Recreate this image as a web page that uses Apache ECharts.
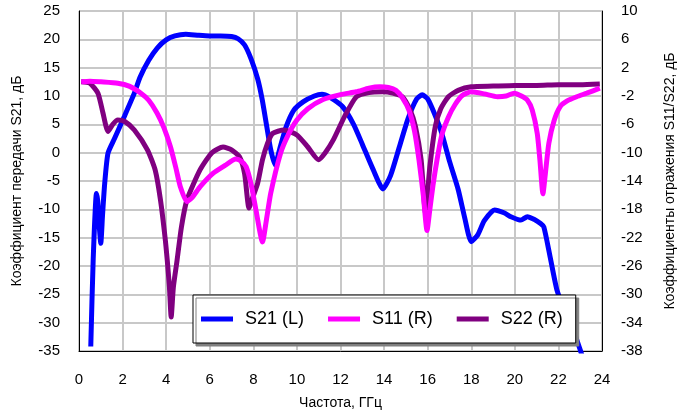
<!DOCTYPE html>
<html><head><meta charset="utf-8">
<script src="https://cdn.jsdelivr.net/npm/echarts@6/dist/echarts.min.js"></script>
<style>html,body{margin:0;padding:0;background:#fff}#c{width:685px;height:416px}</style>
</head><body><div id="c"></div>
<script>
// ---- data ----
const xTicks = [0,2,4,6,8,10,12,14,16,18,20,22,24];
const leftTicks = [-35,-30,-25,-20,-15,-10,-5,0,5,10,15,20,25];
const rightTicks = [-38,-34,-30,-26,-22,-18,-14,-10,-6,-2,2,6,10];

const s21Freq = [0.54,0.65,0.8,0.86,0.93,1.0,1.08,1.18,1.33,1.63,2.08,2.54,2.8,3.2,3.6,4.0,4.4,4.9,5.5,6.0,6.5,7.0,7.3,7.6,7.9,8.2,8.4,8.6,8.8,9.0,9.2,9.5,9.86,10.3,10.8,11.15,11.5,12.1,12.6,13.0,13.5,13.95,14.3,14.7,15.1,15.5,15.75,16.0,16.3,16.65,17.0,17.4,17.7,18.0,18.3,18.6,19.07,19.5,19.82,20.28,20.57,20.9,21.18,21.33,21.6,21.93,22.3,22.7,23.0,23.1];
const s21Vals = [-34.2,-19,-7.2,-8.5,-13,-16,-11,-5.4,-0.1,2.5,6.4,10.5,13.3,16.3,18.5,19.9,20.6,20.9,20.7,20.6,20.6,20.5,20.1,19,16.5,13,9.5,5,0.5,-2.2,0.5,4.5,7.5,9,10,10.3,9.8,8.1,5,1.5,-3,-6.4,-4,1,6,9.5,10.2,9.5,7,3.4,-1.5,-6.5,-11.5,-15.7,-14.5,-12,-10.1,-10.6,-11.3,-11.9,-11.3,-11.8,-12.5,-13.1,-18,-24.2,-28,-31.5,-34.8,-36];

const s11Freq = [0.1,0.5,1.0,1.78,2.3,2.84,3.2,3.58,3.9,4.2,4.45,4.65,4.95,5.2,5.56,6.16,6.7,7.2,7.45,7.67,7.9,8.12,8.42,8.6,8.8,9.25,9.6,10.0,10.5,11.2,12.0,12.73,13.3,13.8,14.2,14.54,14.85,15.14,15.4,15.6,15.8,15.97,16.1,16.25,16.43,16.65,16.95,17.26,17.6,18.0,18.6,19.2,19.6,19.97,20.3,20.58,20.8,21.03,21.15,21.29,21.4,21.56,21.8,22.08,22.4,22.84,23.3,23.9];
const s11Vals = [0,0.1,0,-0.2,-0.6,-1.6,-2.6,-4.4,-6.5,-9.2,-12.2,-14.8,-16.9,-16.3,-14.8,-12.9,-11.8,-10.9,-11.2,-12,-14.5,-18.1,-22.6,-19.5,-15.7,-10.1,-7.5,-5.4,-3.8,-2.5,-1.8,-1.4,-0.9,-0.7,-0.8,-1.2,-2.3,-4,-7,-11,-16,-21,-18,-14.5,-11,-7.5,-5,-3.2,-1.9,-1.4,-1.7,-2.1,-2,-1.6,-2,-2.6,-4,-7.3,-11,-15.8,-13,-8.7,-5.5,-3.5,-2.7,-2.1,-1.6,-0.9];

const s22Freq = [0.1,0.5,0.87,1.1,1.33,1.55,1.78,2.1,2.54,3.14,3.5,3.74,3.95,4.05,4.15,4.23,4.33,4.5,4.7,4.95,5.56,6.1,6.61,7.0,7.37,7.6,7.8,7.95,8.2,8.42,8.65,8.88,9.4,10.0,10.5,10.99,11.3,11.67,12.2,12.73,13.3,13.94,14.4,14.84,15.2,15.44,15.7,15.9,16.1,16.35,16.6,16.95,17.4,18.0,19.0,20.0,21.0,22.0,23.0,23.9];
const s22Vals = [0,-0.2,-1.6,-4.4,-7,-6,-5.4,-5.6,-6.8,-9.6,-12.5,-16.7,-22,-25.2,-29,-33.2,-29,-25.2,-20.5,-16.7,-12.4,-10,-9.2,-9.6,-10.6,-13,-17.8,-16.5,-14.3,-11,-8.7,-7.3,-6.8,-7.5,-9.2,-11,-10,-8.2,-4.8,-2.1,-1.5,-1.4,-1.6,-2.1,-4,-6.3,-11,-18.5,-12,-6.3,-3.8,-2.1,-1.2,-0.7,-0.6,-0.5,-0.5,-0.4,-0.4,-0.3];

const seriesNames = ['S21 (L)','S11 (R)','S22 (R)'];

function pairs(xs, ys){ return xs.map((x,i)=>[x, ys[i]]); }

const FONT = '"Liberation Sans", Arial, sans-serif';
const GRID = '#c8c8c8';
const chart = echarts.init(document.getElementById('c'), null, {renderer:'canvas'});
chart.setOption({
  animation:false,
  backgroundColor:'#fff',
  textStyle:{fontFamily:FONT},
  grid:{left:79,right:76,top:11,bottom:65,show:true,borderColor:'#000',borderWidth:1,backgroundColor:'transparent'},
  legend:{
    data:seriesNames,
    left:193, top:295,
    padding:[15,13,15,8],
    itemWidth:32, itemHeight:5, itemGap:24,
    icon:'rect',
    backgroundColor:'#fff', borderColor:'#000', borderWidth:1,
    shadowColor:'#808080', shadowOffsetX:3, shadowOffsetY:3, shadowBlur:0,
    textStyle:{fontSize:18, color:'#000', fontFamily:FONT, padding:[0,0,0,7]}
  },
  xAxis:[{
    type:'value', min:xTicks[0], max:xTicks[xTicks.length-1], interval:xTicks[1]-xTicks[0],
    name:'Частота, ГГц', nameLocation:'middle', nameGap:45,
    nameTextStyle:{fontSize:14,color:'#000',fontFamily:FONT},
    axisLine:{show:true,onZero:false,lineStyle:{color:'#000',width:1}},
    axisTick:{show:false},
    axisLabel:{fontSize:15,color:'#000',margin:21,fontFamily:FONT},
    splitLine:{show:true,lineStyle:{color:GRID,width:2}}
  }],
  yAxis:[{
    type:'value', min:leftTicks[0], max:leftTicks[leftTicks.length-1], interval:leftTicks[1]-leftTicks[0], position:'left',
    name:'Коэффициент передачи S21, дБ', nameLocation:'middle', nameGap:55, nameRotate:90,
    nameTextStyle:{fontSize:14,color:'#000',fontFamily:FONT},
    axisLine:{show:true,onZero:false,lineStyle:{color:'#000',width:1}},
    axisTick:{show:false},
    axisLabel:{fontSize:15,color:'#000',margin:19,fontFamily:FONT},
    splitLine:{show:true,lineStyle:{color:GRID,width:2}}
  },{
    type:'value', min:rightTicks[0], max:rightTicks[rightTicks.length-1], position:'right',
    name:'Коэффициенты отражения S11/S22, дБ', nameLocation:'middle', nameGap:61, nameRotate:90,
    nameTextStyle:{fontSize:14,color:'#000',fontFamily:FONT},
    axisLine:{show:true,onZero:false,lineStyle:{color:'#000',width:1}},
    axisTick:{show:false},
    axisLabel:{fontSize:15,color:'#000',margin:19,fontFamily:FONT,customValues:rightTicks},
    splitLine:{show:false}
  }],
  series:[
    {name:seriesNames[0],type:'line',yAxisIndex:0,data:pairs(s21Freq,s21Vals),showSymbol:false,symbol:'none',smooth:0.2,
     lineStyle:{color:'#0000ff',width:5},itemStyle:{color:'#0000ff'},z:2},
    {name:seriesNames[2],type:'line',yAxisIndex:1,data:pairs(s22Freq,s22Vals),showSymbol:false,symbol:'none',smooth:0.2,
     lineStyle:{color:'#800080',width:5},itemStyle:{color:'#800080'},z:3},
    {name:seriesNames[1],type:'line',yAxisIndex:1,data:pairs(s11Freq,s11Vals),showSymbol:false,symbol:'none',smooth:0.2,
     lineStyle:{color:'#ff00ff',width:5},itemStyle:{color:'#ff00ff'},z:4}
  ]
});
</script></body></html>
